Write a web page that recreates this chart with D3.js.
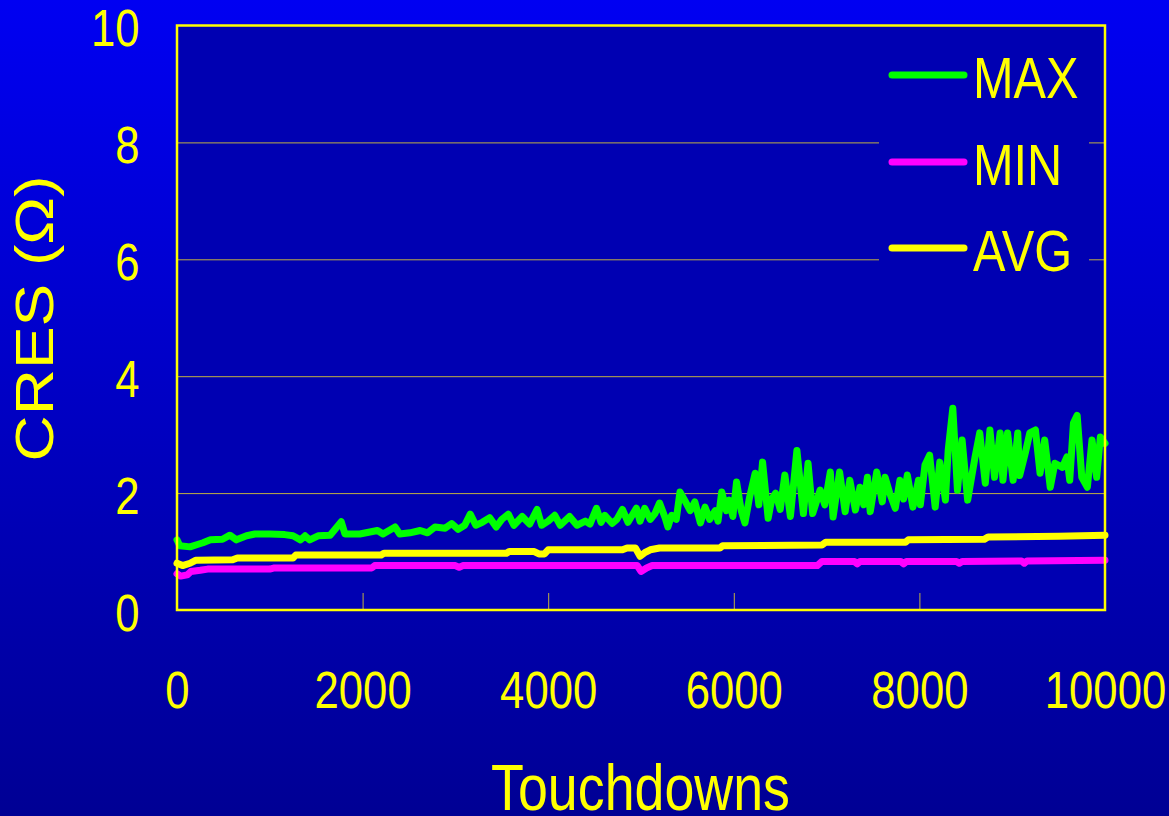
<!DOCTYPE html>
<html>
<head>
<meta charset="utf-8">
<script src="https://cdn.jsdelivr.net/npm/d3@7"></script>
<style>
  html, body { margin: 0; padding: 0; background: #0000c0; }
  svg { display: block; }
  text { font-family: "Liberation Sans", Arial, sans-serif; fill: #ffff00; }
</style>
</head>
<body>
<svg id="chart" width="1169" height="816"></svg>
<script>
// Contact resistance over touchdowns
const xTicks = [0, 2000, 4000, 6000, 8000, 10000];
const yTicks = [0, 2, 4, 6, 8, 10];
const gridValues = [2, 4, 6, 8];
const innerTickValues = [2000, 4000, 6000, 8000];

const seriesNames = ["MAX", "MIN", "AVG"];
const seriesColors = ["#00ff00", "#ff00ff", "#ffff00"];

const maxTouchdowns = [0, 30, 140, 220, 280, 360, 490, 570, 640, 750, 840, 1000, 1160, 1250, 1330, 1380, 1430, 1520, 1650, 1770,
  1810, 1970, 2160, 2220, 2350, 2400, 2510, 2620, 2700, 2780, 2890, 2960, 3030, 3100, 3160, 3220, 3290, 3370, 3440, 3500,
  3570, 3630, 3720, 3800, 3880, 3930, 4000, 4070, 4130, 4230, 4310, 4400, 4450, 4520, 4570, 4610, 4690, 4740, 4800, 4860,
  4950, 4990, 5040, 5100, 5150, 5200, 5260, 5290, 5330, 5380, 5420, 5470, 5530, 5580, 5640, 5690, 5740, 5800, 5830, 5870,
  5920, 5950, 5990, 6030, 6080, 6120, 6170, 6230, 6270, 6310, 6370, 6410, 6450, 6500, 6550, 6610, 6680, 6750, 6800, 6850,
  6930, 6980, 7040, 7070, 7140, 7200, 7250, 7310, 7360, 7400, 7440, 7470, 7540, 7600, 7630, 7680, 7740, 7790, 7830, 7870,
  7930, 7990, 8010, 8060, 8110, 8170, 8220, 8280, 8310, 8360, 8410, 8460, 8520, 8600, 8650, 8710, 8760, 8810, 8870, 8900,
  8950, 9010, 9060, 9080, 9140, 9190, 9250, 9300, 9350, 9410, 9460, 9540, 9590, 9620, 9660, 9700, 9750, 9810, 9860, 9910,
  9950, 10000];
const maxValues = [1.20, 1.10, 1.08, 1.12, 1.15, 1.20, 1.21, 1.28, 1.20, 1.27, 1.30, 1.30, 1.29, 1.27, 1.20, 1.27, 1.20, 1.27, 1.28, 1.51,
  1.30, 1.30, 1.36, 1.30, 1.42, 1.30, 1.32, 1.36, 1.32, 1.42, 1.40, 1.48, 1.38, 1.45, 1.64, 1.45, 1.50, 1.58, 1.42, 1.55,
  1.64, 1.45, 1.60, 1.47, 1.72, 1.45, 1.52, 1.62, 1.45, 1.60, 1.45, 1.52, 1.47, 1.74, 1.50, 1.62, 1.48, 1.55, 1.72, 1.50,
  1.74, 1.52, 1.74, 1.55, 1.65, 1.83, 1.58, 1.42, 1.62, 1.55, 2.02, 1.88, 1.70, 1.85, 1.49, 1.76, 1.55, 1.70, 1.52, 2.02,
  1.70, 1.88, 1.60, 2.19, 1.70, 1.49, 1.93, 2.34, 1.80, 2.53, 1.57, 1.90, 2.00, 1.72, 2.31, 1.60, 2.73, 1.65, 2.51, 1.65,
  2.05, 1.80, 2.36, 1.59, 2.36, 1.68, 2.22, 1.71, 2.10, 1.80, 2.27, 1.68, 2.36, 1.85, 2.27, 2.00, 1.74, 2.22, 1.90, 2.31,
  1.76, 2.22, 1.80, 2.48, 2.65, 1.76, 2.53, 1.88, 2.73, 3.45, 2.05, 2.91, 1.88, 2.62, 3.03, 2.17, 3.08, 2.27, 3.03, 2.22,
  3.03, 2.22, 3.03, 2.30, 2.68, 3.03, 3.08, 2.34, 2.91, 2.10, 2.51, 2.44, 2.62, 2.22, 3.20, 3.33, 2.27, 2.10, 2.91, 2.27,
  2.96, 2.85];

const minTouchdowns = [0, 40, 110, 150, 250, 330, 1000, 1050, 2100, 2130, 3000, 3040, 3080, 4960, 5000, 5060, 5120, 6900, 6950,
  7300, 7330, 7360, 7800, 7830, 7860, 8400, 8430, 8460, 9100, 9130, 9160, 10000];
const minValues = [0.62, 0.58, 0.60, 0.66, 0.68, 0.70, 0.70, 0.72, 0.72, 0.76, 0.76, 0.73, 0.76, 0.76, 0.66, 0.72, 0.76, 0.76, 0.83,
  0.83, 0.79, 0.83, 0.83, 0.79, 0.83, 0.83, 0.80, 0.83, 0.84, 0.80, 0.84, 0.85];

const avgTouchdowns = [0, 60, 140, 200, 600, 650, 1250, 1280, 2200, 2230, 3550, 3580, 3850, 3900, 3960, 4000, 4800, 4850, 4940,
  4990, 5040, 5100, 5200, 5850, 5880, 6950, 6990, 7850, 7880, 8700, 8740, 9500, 10000];
const avgValues = [0.80, 0.76, 0.80, 0.85, 0.86, 0.89, 0.89, 0.94, 0.94, 0.97, 0.97, 1.00, 1.00, 0.96, 0.96, 1.03, 1.03, 1.06, 1.06,
  0.92, 0.98, 1.03, 1.06, 1.06, 1.10, 1.11, 1.16, 1.16, 1.20, 1.21, 1.25, 1.26, 1.28];

const svg = d3.select("#chart");
const W = 1169, H = 816;
const plot = { left: 177, right: 1105, top: 25.5, bottom: 610 };
const textScale = 0.84;
const gridColor = "#c0b040";

const x = d3.scaleLinear().domain([0, 10000]).range([plot.left, plot.right]);
const y = d3.scaleLinear().domain([0, 10]).range([plot.bottom, plot.top]);

// page background
const defs = svg.append("defs");
const bg = defs.append("linearGradient").attr("id", "bgGrad")
  .attr("x1", 0).attr("y1", 0).attr("x2", 0).attr("y2", 1);
bg.append("stop").attr("offset", "0%").attr("stop-color", "#0000f2");
bg.append("stop").attr("offset", "100%").attr("stop-color", "#000094");
svg.append("rect").attr("width", W).attr("height", H).attr("fill", "url(#bgGrad)");

// plot area
svg.append("rect")
  .attr("x", plot.left).attr("y", plot.top)
  .attr("width", plot.right - plot.left).attr("height", plot.bottom - plot.top)
  .attr("fill", "#0000b2");

// horizontal gridlines
const grid = svg.append("g")
  .attr("transform", `translate(${plot.left},0)`)
  .call(d3.axisLeft(y).tickValues(gridValues).tickSize(-(plot.right - plot.left)).tickFormat(""));
grid.select(".domain").remove();
grid.selectAll("line").attr("stroke", gridColor).attr("stroke-width", 1);

// inner tick marks on the bottom edge
const inner = svg.append("g")
  .attr("transform", `translate(0,${plot.bottom})`)
  .call(d3.axisTop(x).tickValues(innerTickValues).tickSize(17).tickFormat(""));
inner.select(".domain").remove();
inner.selectAll("line").attr("stroke", gridColor).attr("stroke-width", 1);

// y tick labels
const yAxis = svg.append("g")
  .attr("transform", "translate(139.5,0)")
  .call(d3.axisLeft(y).tickValues(yTicks).tickSize(0).tickPadding(0).tickFormat(d3.format("d")));
yAxis.select(".domain").remove();
yAxis.selectAll("text")
  .attr("x", 0).attr("dy", null).attr("y", 20)
  .attr("transform", `scale(${textScale},1)`)
  .attr("text-anchor", "end")
  .style("font-size", "52px")
  .attr("fill", "#ffff00");

// x tick labels
const xAxis = svg.append("g")
  .attr("transform", `translate(0,${plot.bottom})`)
  .call(d3.axisBottom(x).tickValues(xTicks).tickSize(0).tickFormat(d3.format("d")));
xAxis.select(".domain").remove();
xAxis.selectAll("text")
  .attr("dy", null).attr("y", 98)
  .attr("transform", `scale(${textScale},1)`)
  .attr("text-anchor", "middle")
  .style("font-size", "52px")
  .attr("fill", "#ffff00");

// axis titles
svg.append("text")
  .attr("transform", `translate(640.5,810) scale(${textScale},1)`)
  .attr("text-anchor", "middle")
  .style("font-size", "64px")
  .text("Touchdowns");

svg.append("text")
  .attr("transform", `translate(53,318.5) scale(${textScale},1) rotate(-90)`)
  .attr("text-anchor", "middle")
  .style("font-size", "64px")
  .text("CRES (\u03A9)");

// legend
const legendBox = { x: 879, y: 36, w: 210, h: 254 };
svg.append("rect")
  .attr("x", legendBox.x).attr("y", legendBox.y)
  .attr("width", legendBox.w).attr("height", legendBox.h)
  .attr("fill", "#0000b2");

const legendRows = [75, 162, 248];
const legend = svg.append("g");
seriesNames.forEach((name, i) => {
  legend.append("line")
    .attr("x1", 892).attr("x2", 964)
    .attr("y1", legendRows[i]).attr("y2", legendRows[i])
    .attr("stroke", seriesColors[i]).attr("stroke-width", 7)
    .attr("stroke-linecap", "round");
  legend.append("text")
    .attr("transform", `translate(973,${legendRows[i] + 23}) scale(${textScale},1)`)
    .style("font-size", "58px")
    .text(name);
});

// series lines
const line = d3.line()
  .x(d => x(d[0]))
  .y(d => y(d[1]));

const series = [
  { name: "MAX", xs: maxTouchdowns, ys: maxValues, color: seriesColors[0] },
  { name: "MIN", xs: minTouchdowns, ys: minValues, color: seriesColors[1] },
  { name: "AVG", xs: avgTouchdowns, ys: avgValues, color: seriesColors[2] }
];

svg.append("g").selectAll("path")
  .data(series)
  .join("path")
  .attr("d", s => line(s.xs.map((t, i) => [t, s.ys[i]])))
  .attr("fill", "none")
  .attr("stroke", s => s.color)
  .attr("stroke-width", 7)
  .attr("stroke-linejoin", "round")
  .attr("stroke-linecap", "round");

// plot frame
svg.append("rect")
  .attr("x", plot.left).attr("y", plot.top)
  .attr("width", plot.right - plot.left).attr("height", plot.bottom - plot.top)
  .attr("fill", "none")
  .attr("stroke", "#ffff00")
  .attr("stroke-width", 2.5);
</script>
</body>
</html>
